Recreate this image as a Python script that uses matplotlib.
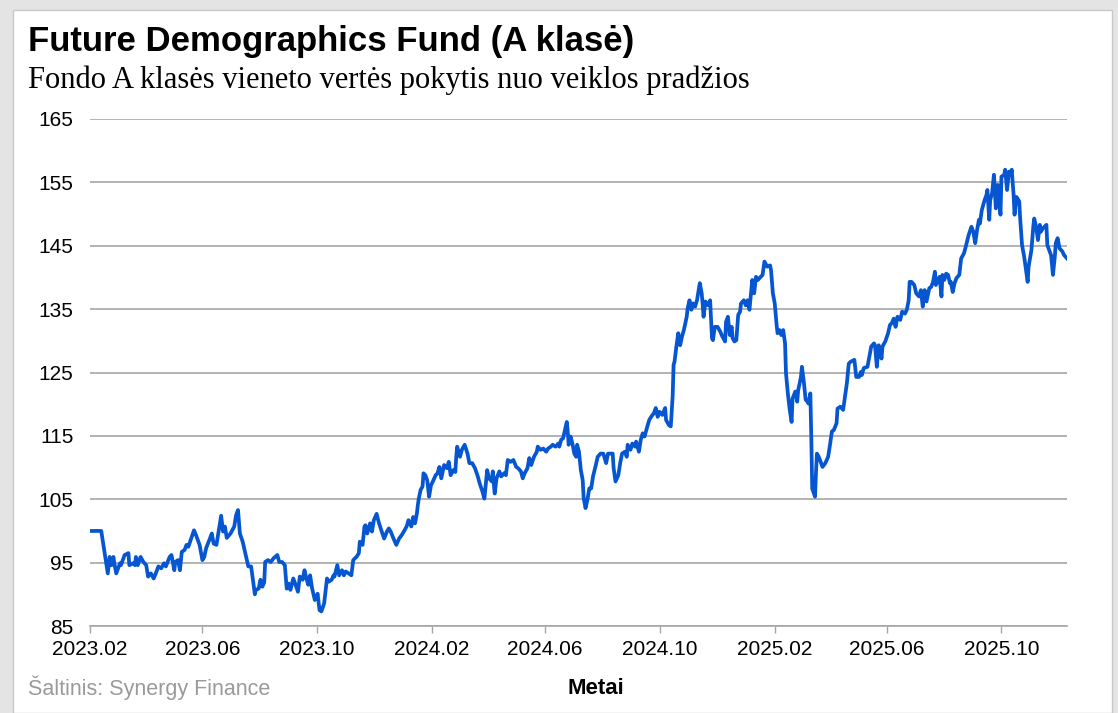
import numpy as np
import pandas as pd
import matplotlib
matplotlib.use("Agg")
import matplotlib.pyplot as plt
from matplotlib.patches import Rectangle

# days since fund start (2023-02-01) and unit value
start_date = "2023-02-01"
days = [
    0, 12, 19, 21, 23, 25, 26, 28, 32, 33, 37, 41, 42, 46, 48, 49, 51, 54, 57, 60,
    62, 65, 68, 71, 73, 76, 79, 81, 85, 87, 90, 91, 94, 96, 98, 101, 103, 105, 108, 111,
    113, 117, 120, 122, 124, 128, 130, 132, 135, 137, 140, 142, 144, 146, 150, 154, 156, 158, 160, 163,
    167, 169, 172, 176, 177, 180, 182, 184, 186, 187, 190, 193, 196, 200, 202, 205, 208, 210,
    212, 214, 217, 219, 222, 224, 227, 229, 231, 233, 235, 237, 240, 243, 245, 247, 250, 253, 255, 258,
    260, 261, 264, 266, 269, 271, 273, 276, 279, 281, 285, 287, 288, 291, 293, 294, 296, 299, 301, 303,
    306, 308, 311, 314, 317, 319, 321, 324, 327, 330, 333, 335, 338, 340, 343, 345, 347, 349, 350, 351,
    353, 355, 356, 358, 360, 362, 364, 366, 369, 371, 373, 375, 378, 381, 383, 385, 388, 390, 391, 392,
    395, 397, 400, 403, 405, 408, 411, 414, 416, 419, 421,
    423, 424, 426, 429, 430, 432, 434, 437, 439, 442, 444, 446, 449, 452, 455, 457, 460, 462, 464, 467,
    469, 471, 474, 477, 478, 481, 484, 487, 489, 492, 494, 497, 500, 501, 503, 505, 507, 509, 510, 511,
    513, 515, 517, 519, 520, 522, 524, 526, 527, 529, 531, 533, 535, 537, 540, 542, 545, 548, 551, 553,
    556, 558, 559, 561, 564, 566, 568, 571, 573, 574, 577, 579, 582, 583, 586, 588, 590, 592, 595, 597,
    599, 602, 604, 606, 608, 611, 614, 615, 618, 620, 622, 623, 624, 626, 628,
    630, 632, 634, 637, 638, 640, 642, 644, 646, 648, 651, 653, 654, 655, 657, 660, 662, 664, 665, 667,
    670, 673, 675, 678, 679, 681, 683, 685, 686, 688, 690, 692, 694, 695, 698, 700, 702, 704, 707, 709,
    711, 713, 716, 718, 720, 723, 726, 727, 729, 731, 733, 734, 736, 738, 740, 742, 743, 745, 747, 749,
    750, 753, 755, 756, 759, 760, 762, 764, 766, 767, 769, 770, 771, 774, 775, 776, 778, 780, 782, 785,
    788, 790, 792, 794, 797, 798, 801, 804, 806, 808, 810, 812, 816, 818, 821, 823, 824, 826, 830, 832,
    834, 837,
    838, 840, 842, 845, 846, 849, 852, 854, 856, 858, 860, 862, 865, 867, 870, 872, 874, 875, 877, 880,
    882, 885, 887, 889, 891, 893, 896, 898, 900, 902, 903, 905, 907, 909, 910, 912, 914, 916, 918, 919,
    921, 923, 925, 928, 930, 933, 935, 938, 941, 943, 945, 947, 949, 950, 952, 955, 957, 958, 960, 961,
    963, 965, 967, 969, 970, 972, 973, 976, 977, 979, 981, 983, 984, 986, 987, 989, 992, 993, 995, 997,
    998, 1001, 1002, 1005, 1007, 1008, 1010, 1012, 1014, 1015, 1017, 1019, 1021, 1022, 1024, 1026, 1028, 1030, 1031, 1033,
    1035, 1038, 1040, 1043,
]
values = [
    100.0, 100.0, 93.3, 95.9, 94.6, 95.9, 94.9, 93.3, 94.9, 94.6, 96.2, 96.5, 94.6, 94.9, 94.6, 95.9, 94.6, 95.9, 95.1, 94.6,
    92.8, 93.3, 92.5, 93.6, 94.4, 94.1, 94.9, 94.4, 95.9, 96.2, 93.8, 95.1, 95.4, 93.8, 96.7, 97.0, 97.8, 97.5, 98.8, 100.1,
    99.4, 97.8, 95.4, 95.9, 97.3, 98.8, 99.6, 98.0, 97.8, 99.6, 102.4, 99.9, 100.7, 98.9, 99.6, 100.7, 102.5, 103.3, 99.6, 98.3,
    95.7, 94.4, 94.4, 90.0, 90.7, 90.9, 92.3, 91.2, 91.9, 95.1, 95.4, 95.1, 95.7, 96.2, 95.1, 95.1, 94.6, 90.9,
    91.7, 90.7, 92.5, 91.7, 90.4, 92.8, 92.3, 93.8, 92.5, 91.5, 93.0, 91.0, 89.1, 90.1, 87.5, 87.3, 88.6, 92.5, 92.0, 92.3,
    93.0, 92.8, 94.6, 93.0, 93.8, 93.0, 93.6, 93.3, 93.0, 95.4, 96.0, 96.5, 98.3, 97.8, 100.7, 100.9, 99.6, 101.2, 99.9, 101.7,
    102.7, 101.5, 100.1, 98.8, 99.9, 100.4, 99.9, 98.8, 97.8, 98.8, 99.4, 99.9, 100.7, 101.7, 100.7, 102.2, 101.2, 102.8, 104.1, 105.1,
    106.5, 107.0, 109.1, 108.8, 108.0, 105.4, 107.2, 107.8, 108.8, 109.1, 110.1, 108.3, 110.4, 109.9, 110.9, 108.8, 109.6, 109.3, 111.7, 113.3,
    111.7, 112.8, 113.6, 112.2, 110.7, 110.7, 109.9, 108.6, 107.5, 106.2, 105.1,
    108.0, 109.6, 108.3, 107.8, 109.4, 105.9, 108.3, 109.4, 108.6, 109.1, 108.8, 111.2, 110.9, 111.2, 110.1, 109.9, 109.4, 108.3, 109.1, 109.9,
    111.5, 110.4, 111.7, 112.5, 113.3, 112.8, 113.0, 112.5, 113.0, 113.3, 113.6, 113.3, 113.8, 113.3, 114.4, 114.6, 115.9, 117.2, 115.7, 113.6,
    114.9, 113.8, 112.2, 111.7, 113.6, 112.5, 109.6, 108.0, 105.2, 103.6, 104.9, 106.7, 106.7, 108.6, 110.4, 111.7, 112.2, 112.2, 110.7, 112.2,
    112.2, 112.2, 109.9, 107.8, 108.8, 110.7, 112.2, 112.5, 111.7, 113.6, 112.8, 113.8, 113.3, 114.1, 112.5, 114.4, 115.4, 114.9, 116.5, 117.5,
    118.0, 118.6, 119.4, 118.0, 118.8, 118.3, 119.4, 117.5, 116.7, 116.5, 121.2, 126.2, 126.7, 129.1, 131.2,
    129.3, 130.7, 131.7, 133.8, 135.1, 136.4, 134.9, 135.9, 135.4, 136.4, 139.1, 137.5, 135.9, 133.8, 136.2, 135.6, 136.4, 130.4, 130.1, 132.2,
    132.2, 131.4, 130.7, 129.9, 133.0, 133.8, 130.9, 132.2, 130.4, 129.9, 130.1, 134.1, 134.6, 135.9, 136.4, 135.6, 136.4, 134.9, 139.6, 137.5,
    140.1, 139.6, 140.1, 140.4, 142.5, 141.7, 141.9, 141.2, 137.5, 135.9, 132.5, 131.2, 131.7, 130.9, 131.7, 129.6, 124.9, 121.7, 119.1, 117.2,
    120.9, 122.0, 120.4, 122.2, 124.3, 125.9, 123.6, 120.7, 120.4, 120.1, 121.7, 114.9, 106.7, 105.4, 109.1, 112.2, 111.7, 110.9, 110.1, 110.7,
    111.7, 113.6, 115.7, 115.9, 117.0, 119.3, 119.6, 119.1, 121.2, 123.3, 126.4, 126.7, 127.0, 124.3, 124.3, 125.1, 124.6, 125.7, 125.9, 127.5,
    129.1, 129.6,
    129.3, 125.9, 129.3, 127.2, 129.1, 129.9, 131.2, 132.5, 132.8, 133.5, 132.2, 133.8, 133.3, 134.6, 134.3, 134.9, 136.4, 139.3, 139.3, 138.8,
    137.5, 137.0, 138.0, 135.4, 138.0, 136.2, 138.3, 138.5, 139.3, 140.9, 138.8, 139.6, 140.1, 137.0, 140.4, 139.6, 140.6, 140.4, 139.1, 139.3,
    137.7, 139.1, 139.9, 140.4, 143.0, 143.8, 144.9, 146.7, 148.0, 147.2, 145.4, 147.5, 149.1, 148.5, 150.6, 152.2, 153.0, 153.8, 149.1, 152.2,
    153.3, 156.2, 150.9, 154.6, 153.3, 149.9, 155.9, 156.2, 157.0, 153.8, 156.7, 156.2, 157.0, 153.0, 149.9, 152.7, 152.0, 149.3, 145.1, 143.5,
    142.5, 139.3, 141.7, 144.3, 148.0, 149.3, 148.0, 145.9, 148.3, 147.2, 147.7, 148.0, 148.3, 145.1, 144.3, 143.5, 140.4, 143.3, 145.4, 146.2,
    144.6, 144.1, 143.5, 143.0,
]
tick_dates = ["2023-02-01", "2023-06-01", "2023-10-01", "2024-02-01", "2024-06-01",
              "2024-10-01", "2025-02-01", "2025-06-01", "2025-10-01"]
tick_labels = ["2023.02", "2023.06", "2023.10", "2024.02", "2024.06",
               "2024.10", "2025.02", "2025.06", "2025.10"]
y_ticks = [85, 95, 105, 115, 125, 135, 145, 155, 165]

dates = pd.Timestamp(start_date) + pd.to_timedelta(days, unit="D")

plt.rcParams["font.family"] = ["Liberation Sans", "DejaVu Sans"]

fig = plt.figure(figsize=(11.18, 7.13), dpi=100, facecolor="#e4e4e4")
# white card with a grey frame, like the original screenshot
fig.patches.append(Rectangle((13 / 1118, 0), 1 - 19 / 1118, 1 - 10 / 713,
                             transform=fig.transFigure, facecolor="white",
                             edgecolor="#c8c8c8", linewidth=1, zorder=-5))

ax = fig.add_axes([90 / 1118, 1 - 626 / 713, 977 / 1118, 507 / 713])
ax.set_zorder(2)
ax.set_facecolor("none")
ax.plot(dates, values, color="#0656d2", linewidth=2.7, solid_joinstyle="round")

ax.set_xlim(dates[0], dates[-1])
ax.set_ylim(85, 165)
ax.set_yticks(y_ticks)
ax.set_xticks(pd.to_datetime(tick_dates))
ax.set_xticklabels(tick_labels)
ax.yaxis.grid(True, color="#a6a6a6", linewidth=1.2)
ax.set_axisbelow(True)
for s in ["top", "right", "left"]:
    ax.spines[s].set_visible(False)
ax.spines["bottom"].set_color("#a6a6a6")
ax.spines["bottom"].set_linewidth(1.2)
ax.tick_params(axis="y", length=0, pad=12, labelsize=15)
ax.tick_params(axis="x", length=5, width=1, color="#a6a6a6", pad=5, labelsize=15)

fig.text(28 / 1118, 1 - 42 / 713, "Future Demographics Fund (A klasė)",
         fontsize=25, fontweight="heavy", va="center", ha="left")
fig.text(28 / 1118, 1 - 80 / 713,
         "Fondo A klasės vieneto vertės pokytis nuo veiklos pradžios",
         fontsize=22, family=["Liberation Serif", "DejaVu Serif"], va="center", ha="left")
fig.text(28 / 1118, 1 - 688 / 713, "Šaltinis: Synergy Finance",
         fontsize=15.5, color="#9a9a9a", va="center", ha="left")
fig.text(596 / 1118, 1 - 688 / 713, "Metai",
         fontsize=16, fontweight="bold", va="center", ha="center")

fig.savefig("out.png", dpi=100, facecolor=fig.get_facecolor())
